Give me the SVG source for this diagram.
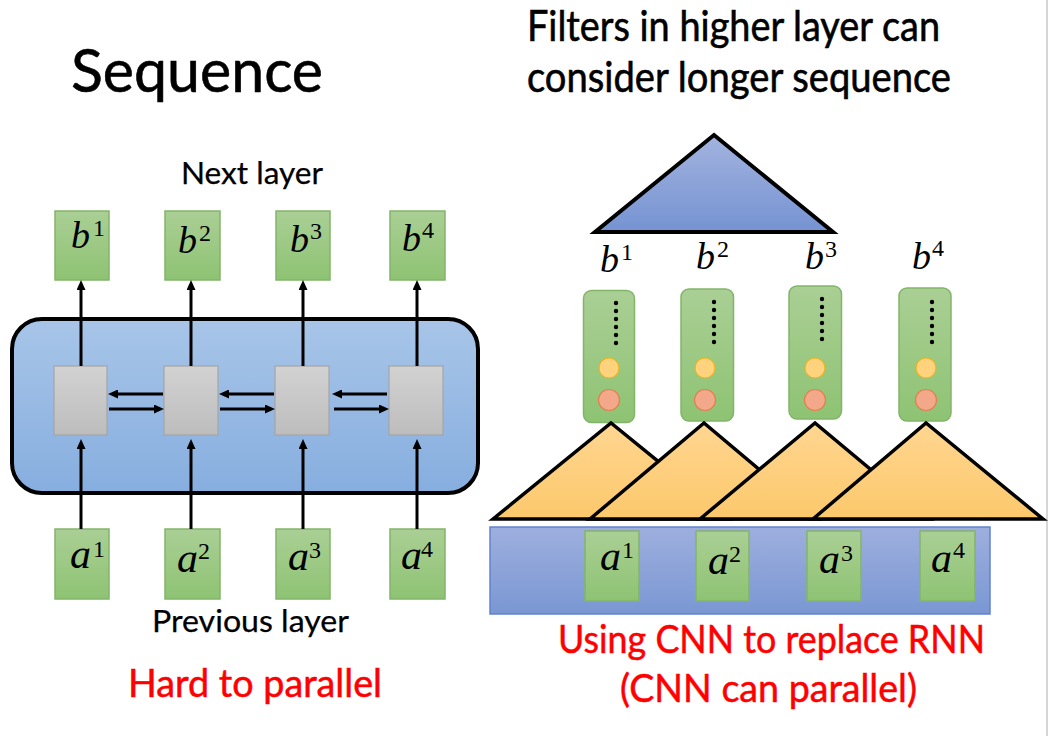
<svg xmlns="http://www.w3.org/2000/svg" width="1048" height="736" viewBox="0 0 1048 736">
  <defs>
    <linearGradient id="gGreen" x1="0" y1="0" x2="0" y2="1">
      <stop offset="0" stop-color="#AACF95"/>
      <stop offset="1" stop-color="#8EC373"/>
    </linearGradient>
    <linearGradient id="gGray" x1="0" y1="0" x2="0" y2="1">
      <stop offset="0" stop-color="#D2D2D2"/>
      <stop offset="1" stop-color="#BDBDBD"/>
    </linearGradient>
    <linearGradient id="gRnn" x1="0" y1="0" x2="0" y2="1">
      <stop offset="0" stop-color="#A8C5E8"/>
      <stop offset="1" stop-color="#86AEDF"/>
    </linearGradient>
    <linearGradient id="gBlueTri" x1="0" y1="0" x2="0" y2="1">
      <stop offset="0" stop-color="#A3B3DF"/>
      <stop offset="1" stop-color="#7593D2"/>
    </linearGradient>
    <linearGradient id="gBar" x1="0" y1="0" x2="0" y2="1">
      <stop offset="0" stop-color="#9EAFDE"/>
      <stop offset="1" stop-color="#7A97D3"/>
    </linearGradient>
    <linearGradient id="gOrange" x1="0" y1="0" x2="0" y2="1">
      <stop offset="0" stop-color="#FFD691"/>
      <stop offset="1" stop-color="#FCC86B"/>
    </linearGradient>
    <marker id="arrow" viewBox="0 0 10 9" markerWidth="10" markerHeight="9" markerUnits="userSpaceOnUse" refX="2" refY="4.5" orient="auto">
      <path d="M0,0 L10,4.5 L0,9 z" fill="#000"/>
    </marker>
  </defs>
  <style>
    .box { fill: url(#gGreen); stroke: #82B56A; stroke-width: 1.5; }
    .cell { fill: url(#gGray); stroke: #A5A5A5; stroke-width: 1.2; }
    .col { fill: url(#gGreen); stroke: #82B56A; stroke-width: 1.5; }
    .filter { fill: url(#gOrange); stroke: #000; stroke-width: 3.5; stroke-linejoin: miter; }
    .conn line { stroke: #000; stroke-width: 3; marker-end: url(#arrow); }
    .dot { fill: #000; }
    .yc { fill: #FFD37E; stroke: #E8B526; stroke-width: 1.2; }
    .rc { fill: #F3A88A; stroke: #E0804F; stroke-width: 1.2; }
    .lbl { font-family: Lato, "Liberation Sans", sans-serif; fill: #000; stroke: #000; stroke-width: 0.6; }
    .small { stroke-width: 0.25; }
    .red { font-family: Lato, "Liberation Sans", sans-serif; fill: #FF0000; stroke: #FF0000; stroke-width: 0.5; font-size: 38px; }
    .m { font-family: "Liberation Serif", "DejaVu Serif", serif; fill: #000; }
    .mi { font-style: italic; }
    .bl { font-size: 38px; }
    .al { font-size: 42px; }
    .sup { font-size: 24px; font-style: normal; }
  </style>

  <line x1="1047" y1="0" x2="1047" y2="736" stroke="#C8C8C8" stroke-width="1.5"/>

  <!-- Titles -->
  <text class="lbl" x="71" y="92" font-size="60" textLength="252" lengthAdjust="spacingAndGlyphs">Sequence</text>
  <text class="lbl" x="527" y="41" font-size="42" textLength="413" lengthAdjust="spacingAndGlyphs">Filters in higher layer can</text>
  <text class="lbl" x="527" y="92" font-size="42" textLength="424" lengthAdjust="spacingAndGlyphs">consider longer sequence</text>
  <text class="lbl small" x="181" y="184" font-size="31" textLength="142" lengthAdjust="spacingAndGlyphs">Next layer</text>
  <text class="lbl small" x="152" y="632" font-size="31" textLength="197" lengthAdjust="spacingAndGlyphs">Previous layer</text>
  <text class="red" x="128" y="697" textLength="254" lengthAdjust="spacingAndGlyphs">Hard to parallel</text>
  <text class="red" x="558" y="653" textLength="427" lengthAdjust="spacingAndGlyphs">Using CNN to replace RNN</text>
  <text class="red" x="620" y="702" textLength="297" lengthAdjust="spacingAndGlyphs">(CNN can parallel)</text>

  <!-- RNN container -->
  <g id="rnn">
    <rect x="12" y="319" width="466" height="174" rx="30" ry="30" fill="url(#gRnn)" stroke="#000" stroke-width="4"/>
  </g>

  <!-- RNN cells -->
  <g id="cell1"><rect class="cell" x="54" y="366" width="53" height="69"/></g>
  <g id="cell2"><rect class="cell" x="164" y="366" width="54" height="69"/></g>
  <g id="cell3"><rect class="cell" x="275" y="366" width="54" height="69"/></g>
  <g id="cell4"><rect class="cell" x="389" y="366" width="54" height="69"/></g>

  <!-- Left outputs b -->
  <g id="lb1"><rect class="box" x="55" y="211" width="54" height="69"/>
    <text class="m bl"><tspan class="mi" x="71" y="248">b</tspan><tspan class="sup" x="93" y="236">1</tspan></text></g>
  <g id="lb2"><rect class="box" x="165" y="211" width="55" height="69"/>
    <text class="m bl"><tspan class="mi" x="178" y="253">b</tspan><tspan class="sup" x="199" y="241">2</tspan></text></g>
  <g id="lb3"><rect class="box" x="276" y="211" width="54" height="69"/>
    <text class="m bl"><tspan class="mi" x="290" y="252">b</tspan><tspan class="sup" x="310" y="239">3</tspan></text></g>
  <g id="lb4"><rect class="box" x="390" y="211" width="55" height="69"/>
    <text class="m bl"><tspan class="mi" x="402" y="251">b</tspan><tspan class="sup" x="422" y="238">4</tspan></text></g>

  <!-- Left inputs a -->
  <g id="la1"><rect class="box" x="55" y="529" width="54" height="70"/>
    <text class="m al"><tspan class="mi" x="70" y="568">a</tspan><tspan class="sup" x="93" y="557">1</tspan></text></g>
  <g id="la2"><rect class="box" x="165" y="529" width="55" height="70"/>
    <text class="m al"><tspan class="mi" x="177" y="572">a</tspan><tspan class="sup" x="198" y="559">2</tspan></text></g>
  <g id="la3"><rect class="box" x="276" y="529" width="54" height="70"/>
    <text class="m al"><tspan class="mi" x="288" y="570">a</tspan><tspan class="sup" x="309" y="558">3</tspan></text></g>
  <g id="la4"><rect class="box" x="390" y="529" width="55" height="70"/>
    <text class="m al"><tspan class="mi" x="401" y="569">a</tspan><tspan class="sup" x="421" y="557">4</tspan></text></g>

  <!-- Connectors -->
  <g id="connectors" class="conn">
    <line x1="81" y1="366" x2="81" y2="288"/>
    <line x1="191" y1="366" x2="191" y2="288"/>
    <line x1="303" y1="366" x2="303" y2="288"/>
    <line x1="417" y1="366" x2="417" y2="288"/>
    <line x1="81" y1="529" x2="81" y2="447"/>
    <line x1="191" y1="529" x2="191" y2="447"/>
    <line x1="303" y1="529" x2="303" y2="447"/>
    <line x1="417" y1="529" x2="417" y2="447"/>
    <line x1="163" y1="394" x2="116" y2="394"/>
    <line x1="274" y1="394" x2="227" y2="394"/>
    <line x1="387" y1="394" x2="340" y2="394"/>
    <line x1="109" y1="409" x2="156" y2="409"/>
    <line x1="220" y1="409" x2="267" y2="409"/>
    <line x1="334" y1="409" x2="381" y2="409"/>
  </g>

  <!-- Right: higher filter -->
  <g id="topFilter">
    <polygon points="714,135 833,232 595,232" fill="url(#gBlueTri)" stroke="#000" stroke-width="4"/>
  </g>

  <!-- Right b labels -->
  <g id="rb1"><text class="m bl"><tspan class="mi" x="600" y="272">b</tspan><tspan class="sup" x="621" y="260">1</tspan></text></g>
  <g id="rb2"><text class="m bl"><tspan class="mi" x="696" y="269">b</tspan><tspan class="sup" x="717" y="257">2</tspan></text></g>
  <g id="rb3"><text class="m bl"><tspan class="mi" x="805" y="269">b</tspan><tspan class="sup" x="825" y="257">3</tspan></text></g>
  <g id="rb4"><text class="m bl"><tspan class="mi" x="912" y="269">b</tspan><tspan class="sup" x="932" y="256">4</tspan></text></g>

  <!-- Right columns -->
  <g id="col1">
    <rect class="col" x="583.5" y="290.5" width="51" height="132" rx="8"/>
    <circle class="dot" cx="616" cy="303" r="2.2"/><circle class="dot" cx="616" cy="311" r="2.2"/><circle class="dot" cx="616" cy="319" r="2.2"/><circle class="dot" cx="616" cy="327" r="2.2"/><circle class="dot" cx="616" cy="335" r="2.2"/><circle class="dot" cx="616" cy="343" r="2.2"/>
    <circle class="yc" cx="609" cy="368" r="10"/>
    <circle class="rc" cx="609" cy="400" r="10.5"/>
  </g>
  <g id="col2">
    <rect class="col" x="681" y="289" width="52.5" height="132" rx="8"/>
    <circle class="dot" cx="714" cy="302" r="2.2"/><circle class="dot" cx="714" cy="310" r="2.2"/><circle class="dot" cx="714" cy="318" r="2.2"/><circle class="dot" cx="714" cy="326" r="2.2"/><circle class="dot" cx="714" cy="334" r="2.2"/><circle class="dot" cx="714" cy="342" r="2.2"/>
    <circle class="yc" cx="705" cy="368" r="10"/>
    <circle class="rc" cx="705" cy="400" r="10.5"/>
  </g>
  <g id="col3">
    <rect class="col" x="789" y="286" width="52.5" height="133" rx="8"/>
    <circle class="dot" cx="822" cy="299" r="2.2"/><circle class="dot" cx="822" cy="307" r="2.2"/><circle class="dot" cx="822" cy="315" r="2.2"/><circle class="dot" cx="822" cy="323" r="2.2"/><circle class="dot" cx="822" cy="331" r="2.2"/><circle class="dot" cx="822" cy="339" r="2.2"/>
    <circle class="yc" cx="815" cy="368" r="10"/>
    <circle class="rc" cx="815" cy="400" r="10.5"/>
  </g>
  <g id="col4">
    <rect class="col" x="899" y="288" width="52" height="133" rx="8"/>
    <circle class="dot" cx="932" cy="302" r="2.2"/><circle class="dot" cx="932" cy="310" r="2.2"/><circle class="dot" cx="932" cy="318" r="2.2"/><circle class="dot" cx="932" cy="326" r="2.2"/><circle class="dot" cx="932" cy="334" r="2.2"/><circle class="dot" cx="932" cy="342" r="2.2"/>
    <circle class="yc" cx="926" cy="368" r="10"/>
    <circle class="rc" cx="926" cy="400" r="10.5"/>
  </g>

  <!-- Filters -->
  <g id="filter1"><polygon class="filter" points="493,519 611,423 729,519"/></g>
  <g id="filter2"><polygon class="filter" points="590,519 704,423 818,519"/></g>
  <g id="filter3"><polygon class="filter" points="700,519 815,423 930,519"/></g>
  <g id="filter4"><polygon class="filter" points="813,519 926,423 1043,519"/></g>

  <!-- Input bar -->
  <g id="inputBar">
    <rect x="490" y="527" width="500" height="87" fill="url(#gBar)" stroke="#6283CF" stroke-width="1.5"/>
  </g>
  <g id="ra1"><rect class="box" x="585" y="531" width="54" height="70"/>
    <text class="m al"><tspan class="mi" x="600" y="570">a</tspan><tspan class="sup" x="622" y="558">1</tspan></text></g>
  <g id="ra2"><rect class="box" x="696" y="531" width="53" height="70"/>
    <text class="m al"><tspan class="mi" x="708" y="574">a</tspan><tspan class="sup" x="729" y="562">2</tspan></text></g>
  <g id="ra3"><rect class="box" x="807" y="531" width="54" height="70"/>
    <text class="m al"><tspan class="mi" x="819" y="573">a</tspan><tspan class="sup" x="841" y="561">3</tspan></text></g>
  <g id="ra4"><rect class="box" x="920" y="531" width="55" height="70"/>
    <text class="m al"><tspan class="mi" x="931" y="572">a</tspan><tspan class="sup" x="953" y="558">4</tspan></text></g>
</svg>
